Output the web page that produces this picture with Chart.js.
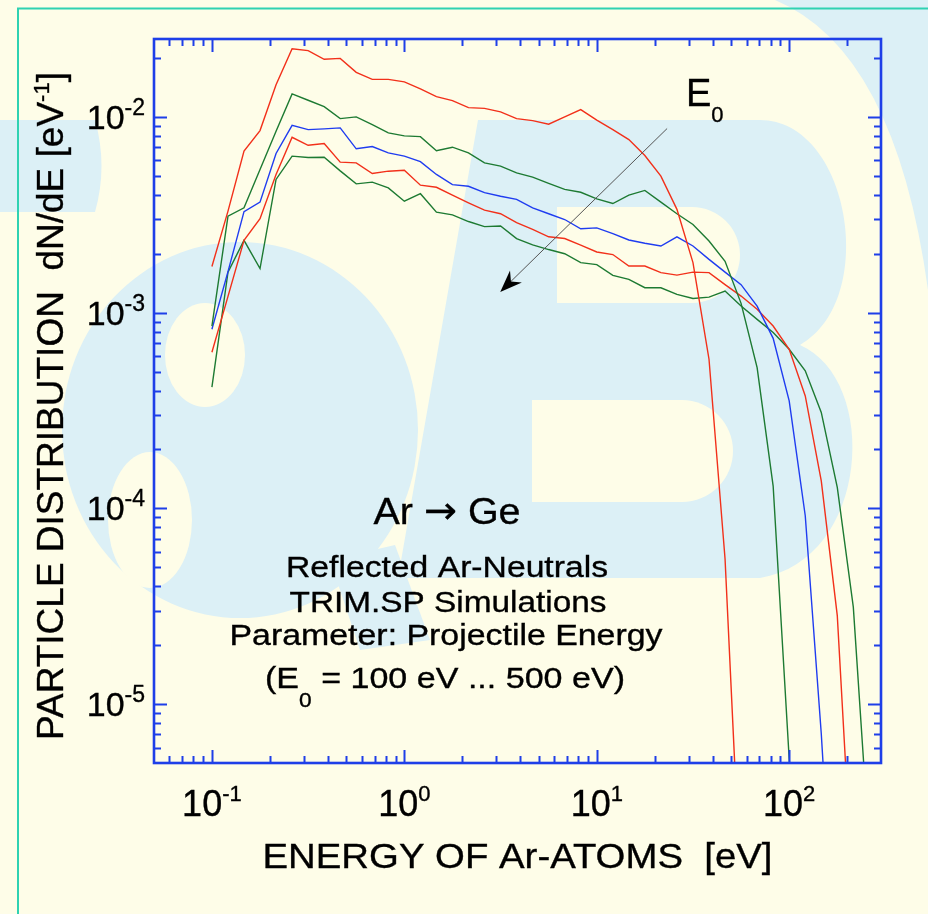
<!DOCTYPE html>
<html>
<head>
<meta charset="utf-8">
<script src="https://cdn.jsdelivr.net/npm/chart.js@4.4.1/dist/chart.umd.min.js"></script>
<style>
  html, body { margin: 0; padding: 0; background: #fefde8; }
  canvas { display: block; }
</style>
</head>
<body>
<canvas id="chart" width="928" height="914"></canvas>
<script>
// Energy grid of the TRIM.SP histograms [eV], 12 bins per decade
const energies = [
  0.1, 0.1212, 0.1468, 0.1778, 0.2154, 0.2610, 0.3162, 0.3831, 0.4642, 0.5623, 0.6813, 0.8254,
  1.0, 1.212, 1.468, 1.778, 2.154, 2.610, 3.162, 3.831, 4.642, 5.623, 6.813, 8.254,
  10, 12.12, 14.68, 17.78, 21.54, 26.10, 31.62, 38.31, 46.42, 56.23, 68.13, 82.54,
  100, 121.2, 146.8, 177.8, 215.4, 261.0
];

// dN/dE [1/eV] of reflected Ar neutrals for each projectile energy E0
const dist100 = [1.72e-3, 3.30e-3, 6.68e-3, 8.51e-3, 1.46e-2, 2.23e-2, 2.18e-2, 1.97e-2, 1.99e-2, 1.69e-2, 1.555e-2, 1.555e-2,
  1.51e-2, 1.39e-2, 1.27e-2, 1.21e-2, 1.115e-2, 1.105e-2, 1.06e-2, 9.80e-3, 9.57e-3, 9.17e-3, 1.00e-2, 1.09e-2,
  9.63e-3, 8.61e-3, 7.66e-3, 6.35e-3, 4.98e-3, 3.37e-3, 1.80e-3, 5.78e-4, 5.51e-5, 1.02e-6];
const dist200 = [8.54e-4, 3.11e-3, 3.43e-3, 5.38e-3, 8.44e-3, 1.31e-2, 1.216e-2, 1.129e-2, 9.80e-3, 1.00e-2, 9.14e-3, 8.29e-3,
  8.00e-3, 7.93e-3, 6.71e-3, 7.00e-3, 6.55e-3, 5.82e-3, 5.60e-3, 5.18e-3, 4.92e-3, 4.57e-3, 4.26e-3, 4.12e-3,
  3.81e-3, 3.61e-3, 3.98e-3, 4.21e-3, 3.67e-3, 3.20e-3, 2.82e-3, 2.32e-3, 1.83e-3, 1.115e-3, 5.24e-4, 1.30e-4,
  5.26e-6, 3.1e-7];
const dist300 = [8.22e-4, 1.62e-3, 3.28e-3, 3.67e-3, 6.50e-3, 9.06e-3, 8.61e-3, 8.69e-3, 8.79e-3, 6.87e-3, 7.06e-3, 6.55e-3,
  6.30e-3, 5.91e-3, 5.08e-3, 4.51e-3, 4.42e-3, 4.10e-3, 3.93e-3, 3.79e-3, 3.43e-3, 3.20e-3, 2.99e-3, 2.68e-3,
  2.71e-3, 2.53e-3, 2.35e-3, 2.26e-3, 2.19e-3, 2.44e-3, 2.19e-3, 1.87e-3, 1.61e-3, 1.39e-3, 1.08e-3, 7.39e-4,
  3.54e-4, 9.17e-5, 7.05e-6, 3.1e-7];
const dist400 = [6.27e-4, 1.21e-3, 2.34e-3, 3.02e-3, 5.08e-3, 7.87e-3, 7.16e-3, 7.31e-3, 5.87e-3, 5.82e-3, 5.14e-3, 5.28e-3,
  5.34e-3, 4.48e-3, 4.37e-3, 3.98e-3, 3.64e-3, 3.34e-3, 3.20e-3, 2.88e-3, 2.66e-3, 2.44e-3, 2.39e-3, 2.21e-3,
  2.04e-3, 1.98e-3, 1.73e-3, 1.73e-3, 1.60e-3, 1.555e-3, 1.61e-3, 1.60e-3, 1.39e-3, 1.215e-3, 1.04e-3, 8.54e-4,
  6.50e-4, 3.75e-4, 1.38e-4, 2.83e-5, 9.7e-7];
const dist500 = [4.16e-4, 1.61e-3, 2.34e-3, 1.68e-3, 4.79e-3, 6.30e-3, 6.20e-3, 6.22e-3, 5.30e-3, 4.55e-3, 4.64e-3, 4.34e-3,
  3.71e-3, 4.05e-3, 3.26e-3, 3.16e-3, 2.92e-3, 2.75e-3, 2.77e-3, 2.39e-3, 2.22e-3, 2.10e-3, 2.00e-3, 1.80e-3,
  1.76e-3, 1.55e-3, 1.48e-3, 1.34e-3, 1.34e-3, 1.24e-3, 1.18e-3, 1.20e-3, 1.29e-3, 1.08e-3, 9.24e-4, 7.91e-4,
  6.50e-4, 5.04e-4, 3.09e-4, 1.28e-4, 3.13e-5, 1.83e-6];

const seriesNames = ['E0 = 100 eV', 'E0 = 200 eV', 'E0 = 300 eV', 'E0 = 400 eV', 'E0 = 500 eV'];
const seriesData = [dist100, dist200, dist300, dist400, dist500];
const seriesColors = ['#f2301a', '#1d7a32', '#1f3cf0', '#f2301a', '#1d7a32'];

// Axis ticks
const xMajor = [0.1, 1, 10, 100];
const xMinor = [0.06, 0.07, 0.08, 0.09, 0.2, 0.3, 0.4, 0.5, 0.6, 0.7, 0.8, 0.9,
  2, 3, 4, 5, 6, 7, 8, 9, 20, 30, 40, 50, 60, 70, 80, 90, 200];
const xTickExp = ['-1', '0', '1', '2'];
const yMajor = [1e-5, 1e-4, 1e-3, 1e-2];
const yMinor = [6e-6, 7e-6, 8e-6, 9e-6, 2e-5, 3e-5, 4e-5, 5e-5, 6e-5, 7e-5, 8e-5, 9e-5,
  2e-4, 3e-4, 4e-4, 5e-4, 6e-4, 7e-4, 8e-4, 9e-4, 2e-3, 3e-3, 4e-3, 5e-3, 6e-3, 7e-3, 8e-3, 9e-3, 2e-2];
const yTickExp = ['-5', '-4', '-3', '-2'];

// Direction of increasing E0: from (E, dN/dE) to (E, dN/dE)
const arrowFrom = [23.2, 8.72e-3];
const arrowTo = [3.15, 1.276e-3];

const FONT = '"Liberation Sans", Arimo, Arial, Helvetica, sans-serif';
const SYMBOL_FONT = '"DejaVu Sans", sans-serif';
const CREAM = '#fefde8';
const LOGO = '#dcf0f6';
const FRAME = '#1e3fe8';

function runFont(r) { return r.size + 'px ' + (r.family || FONT); }
function runsWidth(ctx, runs) {
  let w = 0;
  for (const r of runs) { ctx.font = runFont(r); w += ctx.measureText(r.text).width; }
  return w;
}
// Draw a sequence of text runs (base text, super/subscripts) on one baseline
function drawRuns(ctx, runs, x, y, anchor, opts = {}) {
  const natural = runsWidth(ctx, runs);
  const sx = opts.width ? opts.width / natural : (opts.sx || 1);
  const w = natural * sx;
  const start = anchor === 'center' ? x - w / 2 : anchor === 'right' ? x - w : x;
  ctx.save();
  ctx.translate(start, y);
  ctx.scale(sx, 1);
  ctx.textAlign = 'left';
  ctx.textBaseline = 'alphabetic';
  ctx.fillStyle = '#000';
  ctx.strokeStyle = '#000';
  ctx.lineWidth = 0.35;
  let cx = 0;
  for (const r of runs) {
    ctx.font = runFont(r);
    ctx.fillText(r.text, cx, r.dy || 0);
    ctx.strokeText(r.text, cx, r.dy || 0);
    cx += ctx.measureText(r.text).width;
  }
  ctx.restore();
}

// Faint institute logo behind the figure
function drawLogo(ctx) {
  ctx.save();
  ctx.fillStyle = LOGO;
  // left bar
  ctx.beginPath();
  ctx.moveTo(0, 120); ctx.lineTo(95, 120);
  ctx.quadraticCurveTo(108, 166, 95, 212); ctx.lineTo(0, 212); ctx.closePath();
  ctx.fill();
  // ampersand
  ctx.beginPath();
  ctx.ellipse(240, 430, 178, 188, 0, 0, Math.PI * 2);
  ctx.fill();
  ctx.beginPath();
  ctx.moveTo(330, 560); ctx.lineTo(395, 545); ctx.lineTo(430, 640); ctx.lineTo(360, 650); ctx.closePath();
  ctx.fill();
  ctx.fillStyle = CREAM;
  ctx.beginPath(); ctx.ellipse(205, 355, 40, 52, 0, 0, Math.PI * 2); ctx.fill();
  ctx.beginPath(); ctx.ellipse(150, 520, 42, 68, 0, 0, Math.PI * 2); ctx.fill();
  // large letter with two bowls
  ctx.fillStyle = LOGO;
  ctx.beginPath();
  ctx.moveTo(478, 120);
  ctx.lineTo(760, 120);
  ctx.bezierCurveTo(850, 120, 880, 300, 800, 345);
  ctx.bezierCurveTo(880, 380, 870, 560, 760, 578);
  ctx.lineTo(398, 578);
  ctx.closePath();
  ctx.fill();
  ctx.fillStyle = CREAM;
  ctx.beginPath();
  ctx.moveTo(557, 207); ctx.lineTo(692, 207);
  ctx.arc(692, 255, 48, -Math.PI / 2, Math.PI / 2);
  ctx.lineTo(557, 303); ctx.closePath(); ctx.fill();
  ctx.beginPath();
  ctx.moveTo(532, 400); ctx.lineTo(682, 400);
  ctx.arc(682, 451, 51, -Math.PI / 2, Math.PI / 2);
  ctx.lineTo(532, 502); ctx.closePath(); ctx.fill();
  // outer swash in the top right corner
  ctx.fillStyle = LOGO;
  ctx.beginPath();
  ctx.moveTo(775, 0);
  ctx.quadraticCurveTo(895, 50, 928, 290);
  ctx.lineTo(928, 0);
  ctx.closePath();
  ctx.fill();
  ctx.restore();
}

const figurePlugin = {
  id: 'figure',
  beforeDraw(chart) {
    const ctx = chart.ctx;
    ctx.save();
    ctx.fillStyle = CREAM;
    ctx.fillRect(0, 0, chart.width, chart.height);
    drawLogo(ctx);
    // page rule
    ctx.strokeStyle = '#2fd2b2';
    ctx.lineWidth = 2;
    ctx.beginPath();
    ctx.moveTo(18, 914); ctx.lineTo(18, 8.5); ctx.lineTo(928, 8.5);
    ctx.stroke();
    ctx.restore();
  },
  afterDraw(chart) {
    const ctx = chart.ctx;
    const a = chart.chartArea;
    const xs = chart.scales.x, ys = chart.scales.y;
    ctx.save();
    // ticks on all four sides, pointing inward
    ctx.strokeStyle = FRAME;
    ctx.lineWidth = 2;
    const tick = (v, len, axis) => {
      ctx.beginPath();
      if (axis === 'x') {
        const p = Math.round(xs.getPixelForValue(v)) + 0.5;
        ctx.moveTo(p, a.bottom); ctx.lineTo(p, a.bottom - len);
        ctx.moveTo(p, a.top); ctx.lineTo(p, a.top + len);
      } else {
        const p = Math.round(ys.getPixelForValue(v)) + 0.5;
        ctx.moveTo(a.left, p); ctx.lineTo(a.left + len, p);
        ctx.moveTo(a.right, p); ctx.lineTo(a.right - len, p);
      }
      ctx.stroke();
    };
    xMajor.forEach(v => tick(v, 13, 'x'));
    xMinor.forEach(v => tick(v, 7, 'x'));
    yMajor.forEach(v => tick(v, 13, 'y'));
    yMinor.forEach(v => tick(v, 7, 'y'));
    ctx.lineWidth = 2.6;
    ctx.strokeRect(a.left, a.top, a.right - a.left, a.bottom - a.top);

    // tick labels
    xMajor.forEach((v, i) => {
      drawRuns(ctx, [{ text: '10', size: 36 }, { text: xTickExp[i], size: 22, dy: -15 }],
        xs.getPixelForValue(v), a.bottom + 53, 'center');
    });
    yMajor.forEach((v, i) => {
      drawRuns(ctx, [{ text: '10', size: 34 }, { text: yTickExp[i], size: 23, dy: -14 }],
        a.left - 9, ys.getPixelForValue(v) + 12, 'right');
    });

    // axis titles
    drawRuns(ctx, [{ text: 'ENERGY OF Ar-ATOMS  [eV]', size: 35 }],
      (a.left + a.right) / 2, 868, 'center', { width: 510 });
    ctx.save();
    ctx.translate(63, 406);
    ctx.rotate(-Math.PI / 2);
    drawRuns(ctx, [{ text: 'PARTICLE DISTRIBUTION  dN/dE [eV', size: 37 },
      { text: '-1', size: 22, dy: -14 }, { text: ']', size: 37 }], 0, 0, 'center');
    ctx.restore();

    // description
    drawRuns(ctx, [{ text: 'Ar ', size: 37.5 }, { text: '\u2192', size: 37.5, family: SYMBOL_FONT, dy: -1 },
      { text: ' Ge', size: 37.5 }], 447, 524, 'center', { width: 147 });
    drawRuns(ctx, [{ text: 'Reflected Ar-Neutrals', size: 30 }], 447, 577, 'center', { width: 322 });
    drawRuns(ctx, [{ text: 'TRIM.SP Simulations', size: 30 }], 448, 612, 'center', { width: 317 });
    drawRuns(ctx, [{ text: 'Parameter: Projectile Energy', size: 30 }], 446, 645, 'center', { width: 433 });
    drawRuns(ctx, [{ text: '(E', size: 30 }, { text: '0', size: 20, dy: 19 },
      { text: ' = 100 eV ... 500 eV)', size: 30 }], 445, 688, 'center', { width: 360 });

    // E0 arrow
    const x0 = xs.getPixelForValue(arrowFrom[0]), y0 = ys.getPixelForValue(arrowFrom[1]);
    const x1 = xs.getPixelForValue(arrowTo[0]), y1 = ys.getPixelForValue(arrowTo[1]);
    const len = Math.hypot(x1 - x0, y1 - y0);
    const ux = (x1 - x0) / len, uy = (y1 - y0) / len;
    ctx.strokeStyle = '#555';
    ctx.lineWidth = 1;
    ctx.beginPath();
    ctx.moveTo(x0, y0); ctx.lineTo(x1 - ux * 12, y1 - uy * 12);
    ctx.stroke();
    ctx.fillStyle = '#000';
    ctx.beginPath();
    ctx.moveTo(x1, y1);
    ctx.lineTo(x1 - ux * 22 - uy * 8.5, y1 - uy * 22 + ux * 8.5);
    ctx.lineTo(x1 - ux * 15, y1 - uy * 15);
    ctx.lineTo(x1 - ux * 22 + uy * 8.5, y1 - uy * 22 - ux * 8.5);
    ctx.closePath();
    ctx.fill();
    drawRuns(ctx, [{ text: 'E', size: 38 }, { text: '0', size: 22, dy: 16 }], 686, 106, 'left');
    ctx.restore();
  }
};

new Chart(document.getElementById('chart'), {
  type: 'line',
  data: {
    datasets: seriesData.map((vals, i) => ({
      label: seriesNames[i],
      data: vals.map((v, k) => ({ x: energies[k], y: v })),
      borderColor: seriesColors[i],
      borderWidth: 1.4,
      pointRadius: 0,
      fill: false,
      tension: 0
    }))
  },
  options: {
    responsive: false,
    animation: false,
    devicePixelRatio: 1,
    layout: { padding: { left: 154, right: 47, top: 39, bottom: 151 } },
    plugins: { legend: { display: false }, tooltip: { enabled: false } },
    scales: {
      x: {
        type: 'logarithmic', min: 0.05, max: 300,
        ticks: { display: false }, grid: { display: false }, border: { display: false },
        afterFit(s) { s.height = 0; }
      },
      y: {
        type: 'logarithmic', min: 5e-6, max: 0.025,
        ticks: { display: false }, grid: { display: false }, border: { display: false },
        afterFit(s) { s.width = 0; }
      }
    }
  },
  plugins: [figurePlugin]
});
</script>
</body>
</html>
